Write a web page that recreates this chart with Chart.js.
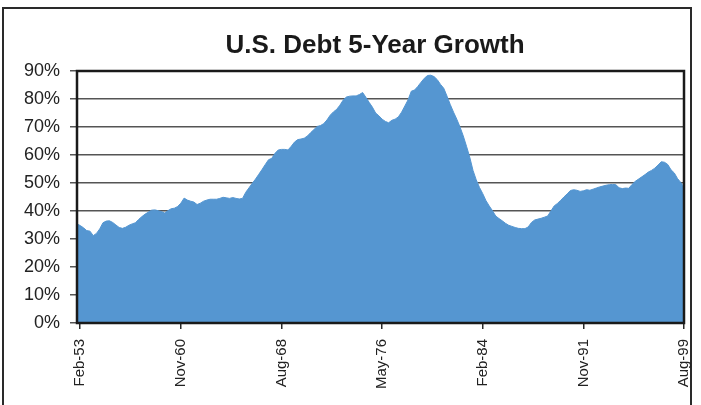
<!DOCTYPE html>
<html>
<head>
<meta charset="utf-8">
<title>U.S. Debt 5-Year Growth</title>
<script src="https://cdn.jsdelivr.net/npm/chart.js@4/dist/chart.umd.min.js"></script>
<style>
  html, body { margin: 0; padding: 0; background: #fff; }
  #wrap { position: relative; width: 701px; height: 405px; overflow: hidden; }
  #frame { position: absolute; left: 2px; top: 7px; width: 690px; height: 420px; border: 2px solid #2a2a2a; box-sizing: border-box; }
  canvas { position: absolute; left: 0; top: 0; }
</style>
</head>
<body>
<div id="wrap">
  <div id="frame"></div>
  <canvas id="myChart" width="701" height="405"></canvas>
</div>
<script>
// quarterly readings, Nov-52 through Aug-99 (percent growth over previous 5 years)
const growth = [
    35.4, 34.8, 34.0, 33.0, 32.8, 31.2, 32.0, 33.6, 35.8, 36.4,
    36.5, 35.9, 35.0, 34.1, 33.8, 34.2, 34.9, 35.4, 35.8, 37.0,
    38.0, 38.9, 39.6, 40.3, 40.4, 40.1, 39.8, 39.3, 40.1, 40.8,
    41.0, 41.6, 42.8, 44.6, 43.9, 43.5, 43.2, 42.3, 42.8, 43.5,
    43.9, 44.2, 44.2, 44.2, 44.5, 44.9, 44.7, 44.5, 44.8, 44.5,
    44.3, 44.5, 46.7, 48.3, 49.9, 51.4, 53.1, 54.8, 56.6, 58.3,
    58.8, 60.6, 61.8, 62.0, 62.0, 61.8, 63.1, 64.6, 65.5, 65.7,
    66.0, 66.8, 68.0, 69.1, 70.2, 70.5, 71.2, 72.5, 74.2, 75.4,
    76.3, 77.8, 79.6, 80.7, 81.0, 81.1, 81.1, 81.6, 82.3, 80.6,
    78.8, 77.1, 75.0, 74.0, 72.8, 72.0, 71.5, 72.4, 72.8, 73.6,
    75.3, 77.5, 79.7, 82.8, 83.2, 84.5, 86.0, 87.4, 88.4, 88.5,
    88.0, 86.9, 85.2, 83.8, 81.0, 78.0, 75.3, 72.8, 70.0, 66.8,
    63.1, 59.2, 54.5, 51.1, 48.4, 46.2, 43.7, 41.8, 40.1, 38.2,
    37.3, 36.5, 35.6, 34.9, 34.5, 34.1, 33.8, 33.7, 33.7, 34.3,
    35.9, 36.8, 37.1, 37.4, 37.8, 38.2, 40.0, 41.8, 42.7, 43.8,
    45.0, 46.1, 47.3, 47.6, 47.4, 47.0, 47.2, 47.6, 47.4, 47.8,
    48.2, 48.6, 48.9, 49.2, 49.4, 49.5, 49.4, 48.3, 48.0, 48.2,
    48.1, 49.5, 50.6, 51.4, 52.2, 53.0, 53.9, 54.5, 55.3, 56.4,
    57.6, 57.4, 56.6, 54.7, 53.6, 51.6, 50.2, 48.5
];

const tickLabels = ['Feb-53', 'Nov-60', 'Aug-68', 'May-76', 'Feb-84', 'Nov-91', 'Aug-99'];
const yTicks = [0, 10, 20, 30, 40, 50, 60, 70, 80, 90];

// quarter labels like "Nov-52", "Feb-53", ...
const months = ['Feb', 'May', 'Aug', 'Nov'];
const quarters = [];
let year = 52, m = 3;
for (let i = 0; i < growth.length; i++) {
    quarters.push(months[m] + '-' + String(year % 100).padStart(2, '0'));
    m++;
    if (m === 4) { m = 0; year++; }
}

const FONT = "'Liberation Sans', Arial, Helvetica, sans-serif";

// title and plot frame
const framePlugin = {
    id: 'framePlugin',
    afterDraw(chart) {
        const c = chart.ctx;
        const a = chart.chartArea;
        c.save();
        c.strokeStyle = '#1a1a1a';
        c.lineWidth = 2.5;
        c.strokeRect(a.left, a.top, a.right - a.left, a.bottom - a.top);
        c.fillStyle = '#1a1a1a';
        c.font = 'bold 26px ' + FONT;
        c.textAlign = 'center';
        c.textBaseline = 'alphabetic';
        c.fillText('U.S. Debt 5-Year Growth', 375, 53);
        c.restore();
    }
};

var ctx = document.getElementById('myChart').getContext('2d');
new Chart(ctx, {
    type: 'line',
    data: {
        labels: quarters,
        datasets: [{
            label: 'U.S. Debt 5-Year Growth',
            data: growth,
            fill: 'origin',
            backgroundColor: '#5596d1',
            borderColor: '#5596d1',
            borderWidth: 1,
            pointRadius: 0,
            tension: 0
        }]
    },
    options: {
        responsive: false,
        animation: false,
        layout: { padding: { top: 71, right: 17, left: 0, bottom: 0 } },
        plugins: {
            legend: { display: false },
            title: { display: false },
            tooltip: { enabled: false }
        },
        scales: {
            x: {
                offset: false,
                afterFit: (s) => {
                    s.height = 82;
                    s.paddingLeft = 0;
                    s.paddingRight = 0;
                },
                grid: {
                    drawOnChartArea: false,
                    tickLength: 6,
                    lineWidth: 1.5,
                    color: (c) => tickLabels.includes(quarters[c.index]) ? '#2a2a2a' : 'rgba(0,0,0,0)'
                },
                border: { display: true, color: '#1a1a1a', width: 2 },
                ticks: {
                    autoSkip: false,
                    minRotation: 90,
                    maxRotation: 90,
                    padding: 10,
                    color: '#222',
                    font: { family: FONT, size: 15 },
                    callback: function (v, i) {
                        const l = quarters[i];
                        return tickLabels.includes(l) ? l : '';
                    }
                }
            },
            y: {
                min: 0,
                max: 90,
                afterFit: (s) => {
                    s.width = 77;
                    s.paddingTop = 0;
                    s.paddingBottom = 0;
                },
                afterBuildTicks: (s) => { s.ticks = yTicks.map(v => ({ value: v })); },
                grid: { color: '#555', lineWidth: 1.5, tickLength: 7 },
                border: { display: true, color: '#1a1a1a', width: 2 },
                ticks: {
                    padding: 10,
                    color: '#222',
                    font: { family: FONT, size: 18 },
                    callback: (v) => v + '%'
                }
            }
        }
    },
    plugins: [framePlugin]
});
</script>
</body>
</html>
